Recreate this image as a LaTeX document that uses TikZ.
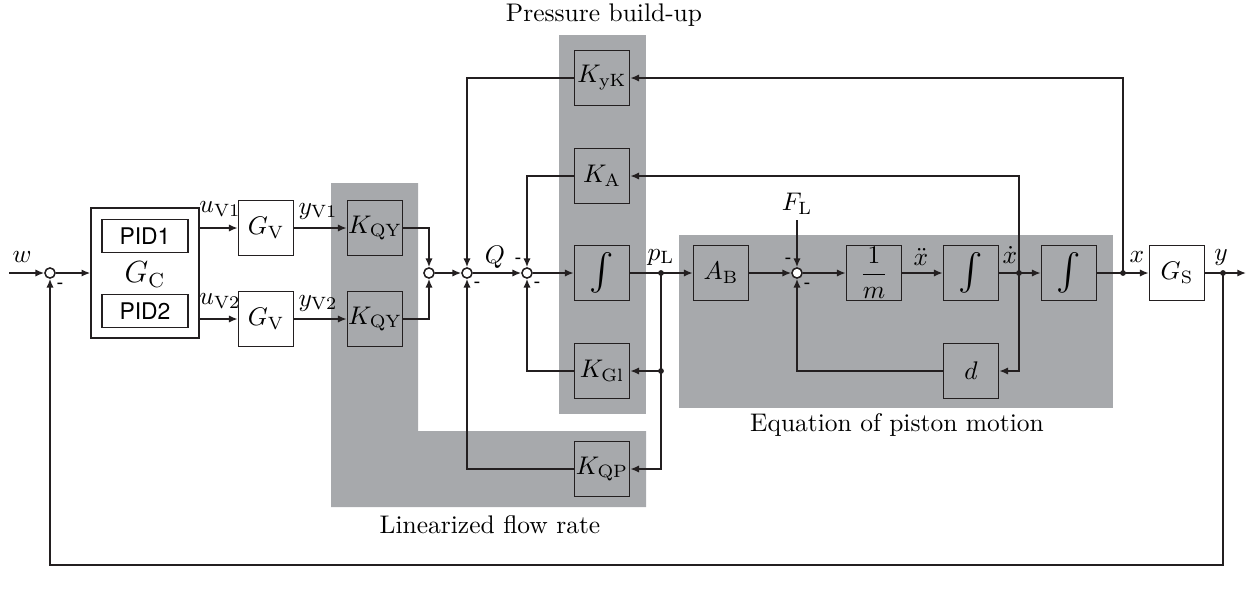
\documentclass[tikz,border=0pt]{standalone}
\usepackage{amsmath}
\usepackage{fontspec}
\setsansfont{TeX Gyre Heros}
\usepackage{tikz}
\usetikzlibrary{arrows.meta, positioning, calc}
\usepackage{xcolor}
\definecolor{areagray}{RGB}{167,169,172}
\definecolor{linegray}{RGB}{35,31,32}
\tikzset{
    % Blocks
    blk/.style={rectangle, draw=linegray, line width=0.6pt, minimum width=0.76cm,
                minimum height=0.76cm, inner sep=0pt, align=center},
    intblk/.style={blk, font=\Large},
    pidbox/.style={rectangle, draw=linegray, line width=0.6pt, minimum width=1.19cm,
                minimum height=0.45cm, inner sep=0pt, font=\sffamily\small},
    sumc/.style={circle, draw=linegray, fill=white, line width=0.6pt,
                minimum size=0.14cm, inner sep=0pt},
    jdot/.style={fill=linegray},
    % Signals
    sarrow/.style={-{Latex[length=1.2mm, width=1mm]}, line width=0.6pt, linegray},
    sline/.style={line width=0.6pt, linegray},
    sgn/.style={font=\sffamily\footnotesize, inner sep=0pt},
    slbl/.style={inner sep=0.5pt},
    % Grouping areas
    grayarea/.style={fill=areagray, draw=none},
    arealbl/.style={font=\normalsize},
}
\begin{document}
\begin{tikzpicture}[x=0.0138cm, y=-0.0138cm]
\useasboundingbox (0,0) rectangle (1249,594);
% areas
\fill[grayarea] (559,35) rectangle (646,414);
\fill[grayarea] (331,183) -- (418,183) -- (418,431) -- (646,431) -- (646,507) -- (331,507) -- cycle;
\fill[grayarea] (679,235) rectangle (1113,408);
\node[arealbl] (lblpb) at (604,15) {Pressure build-up};
\node[arealbl] (lblfr) at (490,525) {Linearized flow rate};
\node[arealbl] (lblpm) at (897,425) {Equation of piston motion};

% controller and valves
\coordinate (win) at (9,273);
\node[sumc] (s0) at (50,273) {};
\node[blk, minimum width=1.49cm, minimum height=1.79cm] (gc) at (145,273) {};
\node[pidbox] (pid1) at (145,236) {PID1};
\node[pidbox] (pid2) at (145,311) {PID2};
\node[font=\large] (gclbl) at (145,275) {$G_{\mathrm{C}}$};
\node[blk] (gv1) at (266,228) {$G_{\mathrm{V}}$};
\node[blk] (gv2) at (266,319) {$G_{\mathrm{V}}$};
\node[blk] (kqy1) at (375,228) {$K_{\mathrm{QY}}$};
\node[blk] (kqy2) at (375,319) {$K_{\mathrm{QY}}$};
\node[sumc] (s1) at (429,273) {};
\node[sumc] (s2) at (467,273) {};
\node[sumc] (s3) at (527,273) {};

% pressure build-up
\node[intblk] (int1) at (602,273) {$\int$};
\node[blk] (kyk) at (602,78) {$K_{\mathrm{yK}}$};
\node[blk] (ka) at (602,176) {$K_{\mathrm{A}}$};
\node[blk] (kgl) at (602,371) {$K_{\mathrm{Gl}}$};
\node[blk] (kqp) at (602,469) {$K_{\mathrm{QP}}$};
\coordinate (pl) at (661,273);
\coordinate (plgl) at (661,371);

% piston motion
\node[blk] (ab) at (721,273) {$A_{\mathrm{B}}$};
\node[sumc] (s4) at (797,273) {};
\coordinate (fin) at (797,220);
\node[blk] (invm) at (874,273) {$\dfrac{1}{m}$};
\node[intblk] (int2) at (971,273) {$\int$};
\coordinate (xd) at (1019,273);
\node[intblk] (int3) at (1069,273) {$\int$};
\node[blk] (dmp) at (971,371) {$d$};
\coordinate (xp) at (1123,273);
\node[blk] (gs) at (1177,273) {$G_{\mathrm{S}}$};
\coordinate (yp) at (1223,273);
\coordinate (yout) at (1246,273);
\coordinate (fb) at (50,565);

% forward path
\draw[sarrow] (win) -- (s0);
\draw[sarrow] (s0) -- (gc);
\draw[sarrow] (gc.east |- gv1) -- (gv1);
\draw[sarrow] (gc.east |- gv2) -- (gv2);
\draw[sarrow] (gv1) -- (kqy1);
\draw[sarrow] (gv2) -- (kqy2);
\draw[sarrow] (kqy1) -| (s1);
\draw[sarrow] (kqy2) -| (s1);
\draw[sarrow] (s1) -- (s2);
\draw[sarrow] (s2) -- (s3);
\draw[sarrow] (s3) -- (int1);
\draw[sline] (int1) -- (pl);
\draw[sarrow] (pl) -- (ab);
\draw[sarrow] (ab) -- (s4);
\draw[sarrow] (fin) -- (s4);
\draw[sarrow] (s4) -- (invm);
\draw[sarrow] (invm) -- (int2);
\draw[sline] (int2) -- (xd);
\draw[sarrow] (xd) -- (int3);
\draw[sline] (int3) -- (xp);
\draw[sarrow] (xp) -- (gs);
\draw[sline] (gs) -- (yp);
\draw[sarrow] (yp) -- (yout);

% feedback paths
\draw[sarrow] (kyk) -| (s2);
\draw[sarrow] (kqp) -| (s2);
\draw[sarrow] (ka) -| (s3);
\draw[sarrow] (kgl) -| (s3);
\draw[sline] (pl) -- (plgl);
\draw[sarrow] (plgl) -- (kgl);
\draw[sarrow] (plgl) |- (kqp);
\draw[sarrow] (xp) |- (kyk);
\draw[sarrow] (xd) |- (ka);
\draw[sarrow] (xd) |- (dmp);
\draw[sarrow] (dmp) -| (s4);
\draw[sarrow] (yp) |- (fb) -- (s0);

% junction dots
\foreach \j in {pl, plgl, xd, xp, yp}
    \fill[jdot] (\j) circle (0.04cm);

% signal labels
\node[slbl] at (22,257) {$w$};
\node[slbl] at (220,209) {$u_{\mathrm{V1}}$};
\node[slbl] at (220,301) {$u_{\mathrm{V2}}$};
\node[slbl] at (318,211) {$y_{\mathrm{V1}}$};
\node[slbl] at (318,303) {$y_{\mathrm{V2}}$};
\node[slbl] at (495,257) {$Q$};
\node[slbl] at (661,257) {$p_{\mathrm{L}}$};
\node[slbl, above=0.05cm of fin] {$F_{\mathrm{L}}$};
\node[slbl] at (921,257) {$\ddot{x}$};
\node[inner sep=0pt] at (1010,255) {$\dot{x}$};
\node[slbl] at (1137,257) {$x$};
\node[slbl] at (1221,257) {$y$};

% signs
\node[sgn] at (60,286) {-};
\node[sgn] at (477,285) {-};
\node[sgn] at (518,261) {-};
\node[sgn] at (537,285) {-};
\node[sgn] at (788,261) {-};
\node[sgn] at (807,286) {-};
\end{tikzpicture}
\end{document}
